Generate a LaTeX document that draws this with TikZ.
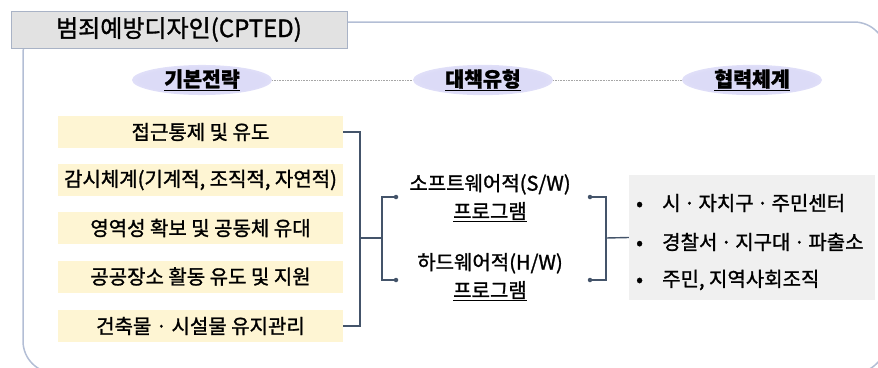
\documentclass[tikz,border=0pt]{standalone}
\usepackage{fontspec}
\setmainfont{Noto Sans CJK KR}[FakeBold=1.3]
\usetikzlibrary{shapes.geometric}
\definecolor{lav}{HTML}{DCDBF7}
\definecolor{framec}{HTML}{B3BED5}
\definecolor{titlefill}{HTML}{E2E2E2}
\definecolor{titleline}{HTML}{A9B3C6}
\definecolor{yel}{HTML}{FEF5D3}
\definecolor{graybox}{HTML}{F0F0F0}
\definecolor{conn}{HTML}{44546A}
\pgfdeclareradialshading{glow}{\pgfpoint{0bp}{0bp}}{color(0bp)=(lav);color(22bp)=(lav);color(50bp)=(white)}
\tikzset{
  fs/.style={font=\fontsize{20}{24}\selectfont},
  ybox/.style={fs, fill=yel, minimum width=285pt, minimum height=32pt, inner sep=0pt},
  hdr/.style={ellipse, shading=glow, minimum width=140pt, minimum height=22pt, inner sep=0pt, font=\fontsize{20.5}{24}\selectfont\bfseries},
  mid/.style={fs, align=center, inner sep=0pt},
  conline/.style={draw=conn, line width=1.4pt},
  dotn/.style={circle, fill=conn, minimum size=4.5pt, inner sep=0pt},
  item/.style={fs, anchor=west, inner sep=0pt},
  sep/.style={draw=gray!70, line width=0.6pt, dash pattern=on 0.8pt off 0.8pt},
}
\begin{document}
\begin{tikzpicture}[x=1pt,y=-1pt]
\path[use as bounding box, clip] (0,0) rectangle (878,367);
% outer frame
\draw[draw=framec, line width=1.5pt, rounded corners=32pt] (23,22) rectangle (886,373);
% title
\node[draw=titleline, fill=titlefill, line width=0.8pt, minimum width=336pt, minimum height=37pt, inner sep=0pt,
      font=\fontsize{24}{26}\selectfont] (title) at (179,29.5) {범죄예방디자인(CPTED)};
% headers
\node[hdr] (h1) at (202,80) {\underline{기본전략}};
\node[hdr] (h2) at (483,80) {\underline{대책유형}};
\node[hdr] (h3) at (752,80) {\underline{협력체계}};
\draw[sep] (h1.east) -- (h2.west);
\draw[sep] (h2.east) -- (h3.west);
% strategy boxes
\node[ybox] (y1) at (200.5,132) {접근통제 및 유도};
\node[ybox] (y2) at (200.5,180) {감시체계(기계적, 조직적, 자연적)};
\node[ybox] (y3) at (200.5,228) {영역성 확보 및 공동체 유대};
\node[ybox] (y4) at (200.5,276.5) {공공장소 활동 유도 및 지원};
\node[ybox] (y5) at (200.5,326) {건축물 · 시설물 유지관리};
% middle
\coordinate (jL) at (360,238);
\coordinate (jR) at (382,238);
\node[dotn] (d1) at (396,197) {};
\node[dotn] (d2) at (396,280) {};
\node[mid] (sw) at (490,198) {소프트웨어적(S/W)\\[4pt]\underline{프로그램}};
\node[mid] (hw) at (490,277) {하드웨어적(H/W)\\[4pt]\underline{프로그램}};
\draw[conline] (y1.east) -| (jL);
\draw[conline] (y5.east) -| (jL);
\draw[conline] (jL) -- (jR);
\draw[conline] (jR) |- (d1);
\draw[conline] (jR) |- (d2);
% right
\node[fill=graybox, minimum width=246pt, minimum height=125pt, inner sep=0pt] (gb) at (752,237.5) {};
\node[dotn] (d3) at (590,197) {};
\node[dotn] (d4) at (590,280) {};
\coordinate (jQ) at (606,238);
\draw[conline] (d3) -| (jQ);
\draw[conline] (d4) -| (jQ);
\draw[conline] (jQ) -- (gb.west);
\node[item] (r1) at (636,203) {\makebox[26pt][l]{•}시\,·\,자치구\,·\,주민센터};
\node[item] (r2) at (636,242) {\makebox[26pt][l]{•}경찰서\,·\,지구대\,·\,파출소};
\node[item] (r3) at (636,280) {\makebox[26pt][l]{•}주민, 지역사회조직};
\end{tikzpicture}
\end{document}
